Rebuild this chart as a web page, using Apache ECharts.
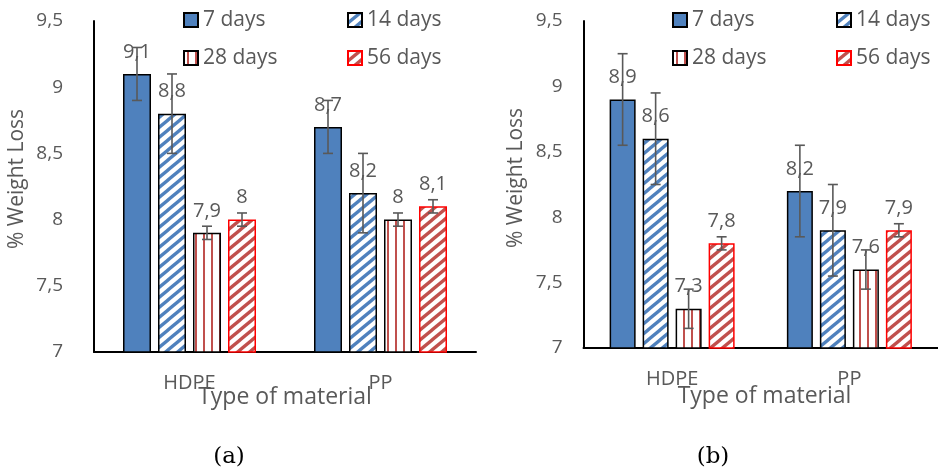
<!DOCTYPE html>
<html><head><meta charset="utf-8">
<script src="https://cdn.jsdelivr.net/npm/echarts@6/dist/echarts.min.js"></script>
<style>html,body{margin:0;padding:0;background:#fff}#c{width:938px;height:472px}</style>
</head><body><div id="c"></div>
<script>
// ---------- data ----------
const categories = ['HDPE', 'PP'];
const seriesNames = ['7 days', '14 days', '28 days', '56 days'];
const yMin = 7, yMax = 9.5, yStep = 0.5;

// chart (a)
const a7 = [9.1, 8.7];
const a14 = [8.8, 8.2];
const a28 = [7.9, 8.0];
const a56 = [8.0, 8.1];
const aErr7 = [0.2, 0.2];
const aErr14 = [0.3, 0.3];
const aErr28 = [0.05, 0.05];
const aErr56 = [0.05, 0.05];

// chart (b)
const b7 = [8.9, 8.2];
const b14 = [8.6, 7.9];
const b28 = [7.3, 7.6];
const b56 = [7.8, 7.9];
const bErr7 = [0.35, 0.35];
const bErr14 = [0.35, 0.35];
const bErr28 = [0.15, 0.15];
const bErr56 = [0.05, 0.05];

// ---------- styles ----------
const BLUE = '#4f81bd', RED = '#c0504d', TXT = '#595959';
const FONT = 'Open Sans';
const fmt = v => String(+(+v).toFixed(2)).replace('.', ',');

function diagPattern(color) {
  const w = 12, h = 10;
  const c = document.createElement('canvas'); c.width = w; c.height = h;
  const ctx = c.getContext('2d');
  ctx.fillStyle = '#fff'; ctx.fillRect(0, 0, w, h);
  ctx.strokeStyle = color; ctx.lineWidth = 3.3;
  for (const dx of [-w, 0, w]) {
    ctx.beginPath();
    ctx.moveTo(dx - w * 0.3, h + h * 0.3);
    ctx.lineTo(dx + w * 1.3, -h * 0.3);
    ctx.stroke();
  }
  return { image: c, repeat: 'repeat' };
}
function vertPattern(color) {
  const w = 8, h = 8;
  const c = document.createElement('canvas'); c.width = w; c.height = h;
  const ctx = c.getContext('2d');
  ctx.fillStyle = '#fff'; ctx.fillRect(0, 0, w, h);
  ctx.fillStyle = color; ctx.fillRect(3, 0, 2, h);
  return { image: c, repeat: 'repeat' };
}

const itemStyles = [
  { color: BLUE, borderColor: '#000', borderWidth: 1.5 },
  { color: diagPattern(BLUE), borderColor: '#000', borderWidth: 1.5 },
  { color: vertPattern(RED), borderColor: '#000', borderWidth: 1.5 },
  { color: diagPattern(RED), borderColor: '#ff0000', borderWidth: 1.5 }
];

const grids = [
  { vals: [a7, a14, a28, a56], errs: [aErr7, aErr14, aErr28, aErr56], barW: 28, gap: 7, labelMargin: 31 },
  { vals: [b7, b14, b28, b56], errs: [bErr7, bErr14, bErr28, bErr56], barW: 26, gap: 7, labelMargin: 21 }
];

const series = [];
grids.forEach((g, gi) => {
  g.vals.forEach((vals, si) => {
    series.push({
      name: seriesNames[si], type: 'bar', xAxisIndex: gi, yAxisIndex: gi,
      data: vals, barWidth: g.barW, barGap: (g.gap / g.barW * 100) + '%',
      itemStyle: itemStyles[si],
      label: { show: true, position: 'top', distance: 12, formatter: p => fmt(p.value),
        color: TXT, fontSize: 20, fontFamily: FONT },
      emphasis: { disabled: true }, z: 2
    });
  });
  const errData = [];
  g.vals.forEach((vals, si) => vals.forEach((v, ci) => errData.push([ci, v, g.errs[si][ci], si])));
  const step = g.barW + g.gap;
  series.push({
    type: 'custom', xAxisIndex: gi, yAxisIndex: gi, data: errData, z: 5, silent: true,
    encode: { x: 0, y: 1 },
    renderItem: (params, api) => {
      const c = api.value(0), v = api.value(1), e = api.value(2), s = api.value(3);
      const p = api.coord([c, v]);
      const x = p[0] + (s - 1.5) * step;
      const yt = api.coord([c, v + e])[1], yb = api.coord([c, v - e])[1];
      const st = { stroke: TXT, lineWidth: 1.6 };
      return { type: 'group', children: [
        { type: 'line', shape: { x1: x, y1: yt, x2: x, y2: yb }, style: st },
        { type: 'line', shape: { x1: x - 5, y1: yt, x2: x + 5, y2: yt }, style: st },
        { type: 'line', shape: { x1: x - 5, y1: yb, x2: x + 5, y2: yb }, style: st }
      ]};
    }
  });
});

const legendCommon = {
  orient: 'vertical', itemWidth: 14, itemHeight: 14, itemGap: 14, padding: 0, icon: 'rect',
  selectedMode: false,
  textStyle: { color: TXT, fontSize: 21, fontFamily: FONT, lineHeight: 24 }
};

const option = {
  animation: false,
  grid: [
    { left: 94, top: 21, width: 382, height: 331 },
    { left: 583.5, top: 21, width: 361, height: 327 }
  ],
  legend: [
    Object.assign({ data: [seriesNames[0], seriesNames[2]], left: 183, top: 8 }, legendCommon),
    Object.assign({ data: [seriesNames[1], seriesNames[3]], left: 347, top: 8 }, legendCommon),
    Object.assign({ data: [seriesNames[0], seriesNames[2]], left: 672, top: 8 }, legendCommon),
    Object.assign({ data: [seriesNames[1], seriesNames[3]], left: 836, top: 8 }, legendCommon)
  ],
  xAxis: grids.map((g, gi) => ({
    type: 'category', gridIndex: gi, data: categories,
    axisLine: { show: true, onZero: false, lineStyle: { color: '#000', width: 2 } },
    axisTick: { show: false },
    axisLabel: { color: TXT, fontSize: 20, fontFamily: FONT, margin: 21 }
  })),
  yAxis: grids.map((g, gi) => ({
    type: 'value', gridIndex: gi, min: yMin, max: yMax, interval: yStep,
    axisLine: { show: true, lineStyle: { color: '#000', width: 2 } },
    axisTick: { show: false }, splitLine: { show: false },
    axisLabel: { color: TXT, fontSize: 19, fontFamily: FONT, margin: g.labelMargin, formatter: v => fmt(v) }
  })),
  graphic: [
    { type: 'text', x: 17, y: 179, rotation: Math.PI / 2,
      style: { text: '% Weight Loss', fill: TXT, fontSize: 21, fontFamily: FONT, align: 'center', verticalAlign: 'middle' } },
    { type: 'text', x: 516, y: 178, rotation: Math.PI / 2,
      style: { text: '% Weight Loss', fill: TXT, fontSize: 21, fontFamily: FONT, align: 'center', verticalAlign: 'middle' } },
    { type: 'text', x: 285, y: 397, z: 10,
      style: { text: 'Type of material', fill: TXT, fontSize: 23, fontFamily: FONT, align: 'center', verticalAlign: 'middle' } },
    { type: 'text', x: 764.5, y: 396, z: 10,
      style: { text: 'Type of material', fill: TXT, fontSize: 23, fontFamily: FONT, align: 'center', verticalAlign: 'middle' } },
    { type: 'text', x: 229, y: 457,
      style: { text: '(a)', fill: '#000', fontSize: 23, fontFamily: 'DejaVu Serif', align: 'center', verticalAlign: 'middle' } },
    { type: 'text', x: 713, y: 457,
      style: { text: '(b)', fill: '#000', fontSize: 23, fontFamily: 'DejaVu Serif', align: 'center', verticalAlign: 'middle' } }
  ],
  series: series
};

const chart = echarts.init(document.getElementById('c'), null, { renderer: 'canvas' });
chart.setOption(option);
</script>
</body></html>
